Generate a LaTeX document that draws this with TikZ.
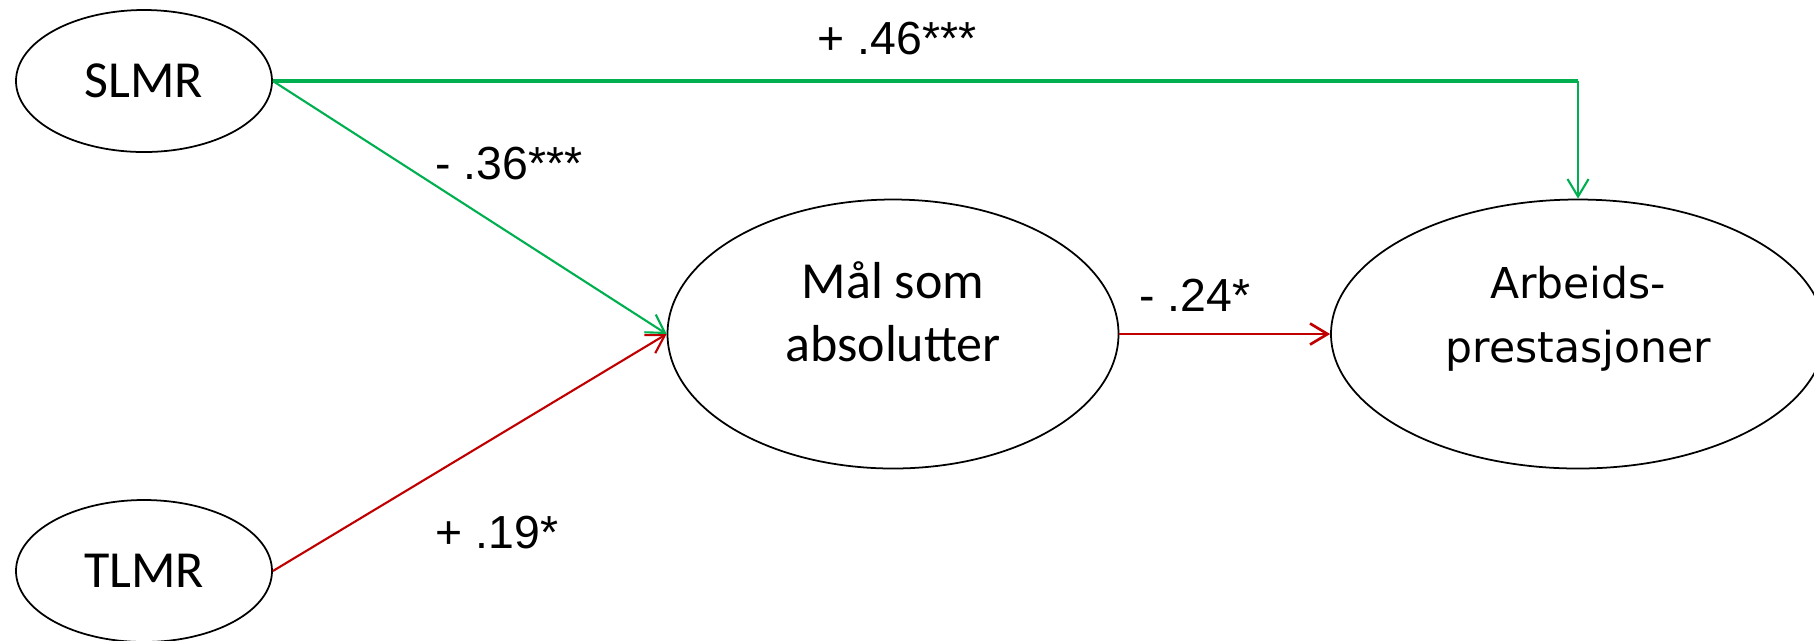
\documentclass[tikz,border=0pt]{standalone}
\usepackage{fontspec}
\setmainfont{Liberation Sans}
\newfontfamily\calib{Carlito}
\newfontfamily\verd{DejaVu Sans}
\usetikzlibrary{arrows.meta, positioning, calc, shapes.geometric}
\usepackage{xcolor}
\definecolor{pgreen}{RGB}{0,176,80}
\definecolor{pred}{RGB}{192,0,0}

\begin{document}
\begin{tikzpicture}[>={Straight Barb[length=5pt,width=6pt]},
    latent/.style={draw=black, line width=0.5pt, ellipse, inner sep=0pt,
                   align=center, font=\calib\fontsize{14.8}{17.9}\selectfont},
    coef/.style={font=\fontsize{13.2}{15}\selectfont},
    gpath/.style={pgreen, line width=0.6pt},
    rpath/.style={pred, line width=0.6pt}]
    \useasboundingbox (0,0) rectangle (18.14,-6.40);

    % latent variables
    \node[latent, minimum width=2.56cm, minimum height=1.42cm]
      (slmr) at (1.44,-0.81) {SLMR};
    \node[latent, minimum width=2.56cm, minimum height=1.42cm]
      (tlmr) at (1.44,-5.71) {TLMR};
    \node[latent, minimum width=4.51cm, minimum height=2.69cm, text depth=13pt]
      (mal) at (8.93,-3.34) {Mål som\\absolutter};
    \node[latent, minimum width=4.94cm, minimum height=2.69cm, text depth=11.4pt,
          font=\verd\fontsize{12.1}{18.2}\selectfont]
      (arb) at (15.78,-3.34) {Arbeids-\\prestasjoner};

    % direct path over the top
    \coordinate (knee) at (arb.north |- slmr.east);
    \draw[pgreen, line width=0.9pt] (slmr.east) -- (knee);
    \draw[gpath, ->] (knee) -- (arb.north);

    % paths into the mediator
    \draw[gpath, ->] (slmr.east) -- (mal.west);
    \draw[rpath, ->] (tlmr.east) -- (mal.west);
    \draw[rpath, line width=0.75pt, ->] (mal.east) -- (arb.west);

    % coefficients
    \node[coef] (c46) at (8.97,-0.39) {+ .46***};
    \node[coef] (c36) at (5.09,-1.64) {- .36***};
    \node[coef] (c24) at (11.95,-2.95) {- .24*};
    \node[coef] (c19) at (4.97,-5.33) {+ .19*};
\end{tikzpicture}
\end{document}
